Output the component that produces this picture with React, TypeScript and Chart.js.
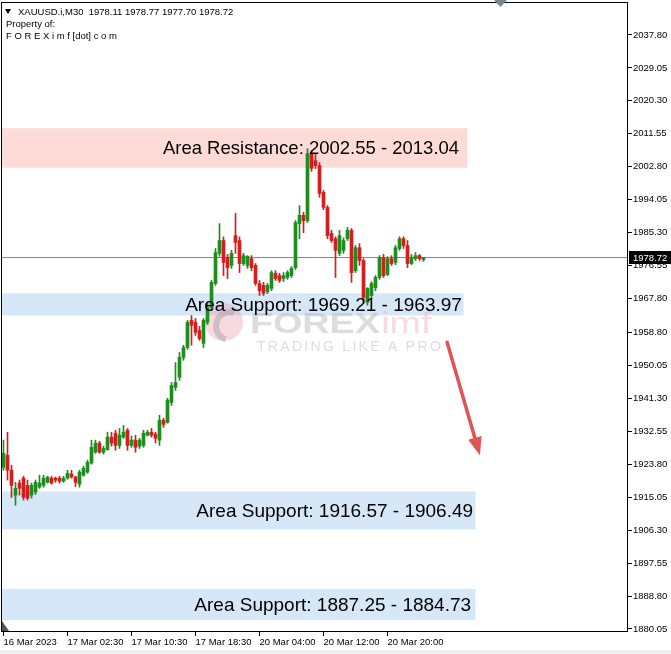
import React, { useEffect, useRef } from "react";
import { Chart, registerables } from "chart.js";

Chart.register(...registerables);

// ---------- header ----------
const headerLine = "XAUUSD.i,M30  1978.11 1978.77 1977.70 1978.72";
const ownerLines = ["Property of:", "F O R E X i m f [dot] c o m"];

// ---------- candles (M30 bars, index 0 = 16 Mar 2023 18:30) ----------
const opens = [
  1923.0, 1926.2, 1922.2, 1915.6, 1918.8, 1920.1, 1918.2, 1915.6, 1916.4, 1917.7,
  1918.2, 1919.0, 1920.1, 1920.1, 1920.1, 1919.3, 1920.1, 1921.2, 1920.4, 1918.5,
  1920.9, 1921.7, 1924.1, 1927.0, 1929.4, 1927.0, 1927.7, 1931.0, 1932.0, 1928.8,
  1931.0, 1932.8, 1928.8, 1930.2, 1928.6, 1928.8, 1931.5, 1932.3, 1931.8, 1930.2,
  1935.5, 1934.9, 1940.2, 1944.2, 1946.9, 1952.2, 1954.8, 1962.0, 1961.5, 1959.3,
  1955.9, 1961.5, 1965.4, 1971.8, 1979.8, 1983.2, 1978.7, 1976.6, 1984.5, 1983.2,
  1977.1, 1976.6, 1978.4, 1976.6, 1971.8, 1971.3, 1969.6, 1970.5, 1974.5, 1973.9,
  1973.1, 1973.4, 1973.9, 1976.0, 1987.7, 1989.9, 1988.5, 2006.3, 2004.4, 2003.1,
  1996.0, 1992.0, 1985.1, 1983.7, 1979.8, 1980.6, 1983.7, 1985.9, 1975.2, 1981.3,
  1977.9, 1966.8, 1968.6, 1970.7, 1973.4, 1978.7, 1974.2, 1978.4, 1977.4, 1981.1,
  1983.7, 1981.9, 1977.1, 1978.4, 1979.2, 1978.11,
];
const highs = [
  1930.2, 1932.3, 1923.5, 1919.0, 1919.6, 1920.6, 1919.6, 1918.8, 1919.6, 1920.9,
  1920.9, 1920.6, 1920.6, 1920.4, 1920.6, 1920.6, 1922.2, 1922.2, 1920.6, 1922.2,
  1923.3, 1924.9, 1930.2, 1930.2, 1929.9, 1928.6, 1932.3, 1932.3, 1932.8, 1933.3,
  1934.1, 1933.3, 1931.3, 1931.5, 1930.7, 1932.8, 1932.8, 1933.3, 1932.3, 1936.8,
  1936.0, 1941.3, 1945.5, 1950.8, 1953.5, 1955.4, 1962.0, 1963.3, 1962.5, 1960.4,
  1962.5, 1966.5, 1972.6, 1981.1, 1987.7, 1984.2, 1979.5, 1980.6, 1990.4, 1984.2,
  1979.8, 1979.2, 1979.2, 1977.1, 1972.6, 1972.1, 1971.8, 1975.2, 1975.2, 1974.5,
  1974.7, 1975.2, 1976.3, 1988.5, 1992.5, 1990.7, 2007.6, 2007.1, 2006.3, 2003.9,
  1996.5, 1992.5, 1985.9, 1984.2, 1985.9, 1983.9, 1986.7, 1986.4, 1981.9, 1982.4,
  1978.4, 1970.7, 1972.3, 1973.9, 1979.2, 1979.5, 1978.9, 1979.2, 1981.9, 1984.2,
  1984.2, 1983.2, 1979.5, 1980.0, 1979.5, 1978.77,
];
const lows = [
  1922.2, 1919.6, 1915.0, 1912.9, 1915.6, 1914.3, 1914.3, 1914.8, 1915.8, 1917.4,
  1917.7, 1918.8, 1918.5, 1919.0, 1918.8, 1919.0, 1919.8, 1920.1, 1917.9, 1917.7,
  1920.6, 1921.4, 1923.8, 1926.7, 1926.7, 1926.5, 1927.5, 1928.6, 1927.5, 1928.0,
  1930.7, 1927.5, 1928.3, 1927.0, 1928.0, 1928.3, 1931.3, 1931.0, 1929.4, 1928.8,
  1933.6, 1934.7, 1939.4, 1943.4, 1946.1, 1951.4, 1954.3, 1955.4, 1958.0, 1956.7,
  1954.8, 1960.9, 1964.6, 1971.3, 1979.0, 1973.9, 1973.1, 1975.8, 1979.8, 1974.7,
  1976.6, 1975.8, 1975.2, 1971.3, 1968.6, 1968.6, 1969.1, 1969.9, 1972.6, 1972.1,
  1972.3, 1972.9, 1973.4, 1975.5, 1983.7, 1985.3, 1988.0, 2001.6, 2002.3, 1994.7,
  1991.4, 1983.7, 1982.7, 1973.4, 1979.2, 1979.8, 1983.2, 1972.1, 1974.7, 1976.6,
  1966.5, 1966.0, 1967.8, 1969.9, 1972.9, 1973.4, 1973.9, 1976.6, 1976.8, 1980.6,
  1981.1, 1976.0, 1976.8, 1977.9, 1977.9, 1977.70,
];
const closes = [
  1926.7, 1922.2, 1918.2, 1917.4, 1917.4, 1915.0, 1914.8, 1918.2, 1919.0, 1918.8,
  1920.1, 1920.4, 1918.8, 1919.6, 1919.3, 1920.1, 1921.4, 1920.4, 1919.0, 1921.7,
  1922.7, 1924.3, 1928.3, 1929.4, 1927.0, 1928.0, 1931.0, 1929.4, 1928.8, 1931.5,
  1932.3, 1928.8, 1930.2, 1928.3, 1930.2, 1932.0, 1932.3, 1931.5, 1930.7, 1935.5,
  1934.4, 1940.8, 1944.7, 1945.5, 1952.2, 1954.8, 1961.5, 1960.7, 1958.8, 1957.2,
  1962.0, 1965.4, 1972.1, 1980.0, 1983.2, 1977.4, 1976.0, 1979.8, 1982.7, 1977.1,
  1979.2, 1979.0, 1976.0, 1971.8, 1969.9, 1969.2, 1971.3, 1974.7, 1973.1, 1972.6,
  1973.9, 1974.7, 1975.8, 1988.0, 1989.9, 1988.5, 2006.3, 2002.4, 2003.1, 1995.7,
  1992.0, 1984.5, 1983.2, 1980.6, 1984.5, 1983.2, 1985.9, 1974.7, 1981.3, 1977.9,
  1968.1, 1970.5, 1971.8, 1973.4, 1978.7, 1973.9, 1978.4, 1977.1, 1981.3, 1983.7,
  1981.9, 1977.1, 1978.7, 1979.2, 1978.4, 1978.72,
];
const lastPrice = 1978.72;

// ---------- axes ----------
const xTickIndex = [0, 16, 32, 48, 64, 80, 96];
const xTickLabels = [
  "16 Mar 2023", "17 Mar 02:30", "17 Mar 10:30", "17 Mar 18:30",
  "20 Mar 04:00", "20 Mar 12:00", "20 Mar 20:00",
];
const yTickValues = [
  2037.8, 2029.05, 2020.3, 2011.55, 2002.8, 1994.05, 1985.3, 1976.55, 1967.8,
  1958.8, 1950.05, 1941.3, 1932.55, 1923.8, 1915.05, 1906.3, 1897.55, 1888.8, 1880.05,
];
const xMin = -0.625;
const xMax = 156.125;
const yMin = 1879.25;
const yMax = 2046.55;

// ---------- zones ----------
const zoneLabels = [
  "Area Resistance: 2002.55 - 2013.04",
  "Area Support: 1969.21 - 1963.97",
  "Area Support: 1916.57 - 1906.49",
  "Area Support: 1887.25 - 1884.73",
];
const zoneHigh = [2013.04, 1969.21, 1916.57, 1890.7];
const zoneLow = [2002.55, 1963.3, 1906.49, 1882.4];
const zoneEndIndex = [116.0, 115.0, 118.0, 118.0];
const zoneLabelEndIndex = [113.9, 114.6, 117.4, 116.9];
const zoneIsResistance = [true, false, false, false];

// ---------- forecast arrow (bar index, price) ----------
const arrowFrom = [110.9, 1956.2];
const arrowTo = [119.1, 1926.2];

const GREEN = "#1f8c1f";
const RED = "#d21e1e";
const FONT = "'Liberation Sans', Arial, sans-serif";

export default function App() {
  const ref = useRef<HTMLCanvasElement>(null);

  useEffect(() => {
    const canvas = ref.current;
    if (!canvas) return;
    const colors = opens.map((o, i) => (closes[i] >= o ? GREEN : RED));
    const bodyData = opens.map((o, i) => ({ x: i, y: [o, closes[i]] }));
    const wickData = opens.map((_, i) => ({ x: i, y: [lows[i], highs[i]] }));

    const overlay = {
      id: "overlay",
      beforeDraw(chart: any) {
        const ctx = chart.ctx;
        ctx.save();
        ctx.fillStyle = "#ffffff";
        ctx.fillRect(0, 0, chart.width, chart.height);
        ctx.fillStyle = "#efefef";
        ctx.fillRect(0, chart.height - 4, chart.width, 4);
        ctx.restore();
      },
      beforeDatasetsDraw(chart: any) {
        const ctx = chart.ctx;
        const xs = chart.scales.x;
        const ys = chart.scales.y;
        const ca = chart.chartArea;
        ctx.save();
        // zones
        for (let i = 0; i < zoneLabels.length; i++) {
          const x1 = xs.getPixelForValue(zoneEndIndex[i]);
          const yt = ys.getPixelForValue(zoneHigh[i]);
          const yb = ys.getPixelForValue(zoneLow[i]);
          ctx.fillStyle = zoneIsResistance[i] ? "#fddcd8" : "#d6e7f8";
          ctx.fillRect(ca.left, yt, x1 - ca.left, yb - yt);
        }
        // watermark
        ctx.fillStyle = "rgba(236,160,178,0.4)";
        ctx.beginPath();
        ctx.arc(224, 322, 19, 0, Math.PI * 2);
        ctx.fill();
        ctx.strokeStyle = "rgba(150,150,150,0.4)";
        ctx.lineWidth = 6;
        ctx.beginPath();
        ctx.arc(230, 326, 14, Math.PI * 0.6, Math.PI * 1.6);
        ctx.stroke();
        ctx.save();
        ctx.translate(250, 333);
        ctx.scale(1.3, 1);
        ctx.font = `bold 29px ${FONT}`;
        ctx.fillStyle = "rgba(170,170,170,0.4)";
        ctx.textBaseline = "alphabetic";
        ctx.fillText("FOREX", 0, 0);
        const w = ctx.measureText("FOREX").width;
        ctx.font = `29px ${FONT}`;
        ctx.fillStyle = "rgba(235,175,195,0.45)";
        ctx.fillText("imf", w + 1, 0);
        ctx.restore();
        ctx.font = `14px ${FONT}`;
        (ctx as any).letterSpacing = "2.3px";
        ctx.fillStyle = "rgba(170,170,170,0.4)";
        ctx.textBaseline = "alphabetic";
        ctx.fillText("TRADING LIKE A PRO", 257, 351);
        (ctx as any).letterSpacing = "0px";
        // last price line
        const yp = Math.round(ys.getPixelForValue(lastPrice)) + 0.5;
        ctx.strokeStyle = "#7d8a96";
        ctx.lineWidth = 1;
        ctx.beginPath();
        ctx.moveTo(ca.left, yp);
        ctx.lineTo(ca.right, yp);
        ctx.stroke();
        ctx.restore();
      },
      afterDatasetsDraw(chart: any) {
        const ctx = chart.ctx;
        const xs = chart.scales.x;
        const ys = chart.scales.y;
        ctx.save();
        // zone labels
        ctx.fillStyle = "#000";
        ctx.textAlign = "right";
        ctx.textBaseline = "middle";
        for (let i = 0; i < zoneLabels.length; i++) {
          ctx.font = `${zoneIsResistance[i] ? 18.5 : 19}px ${FONT}`;
          const xr = xs.getPixelForValue(zoneLabelEndIndex[i]);
          const ym = (ys.getPixelForValue(zoneHigh[i]) + ys.getPixelForValue(zoneLow[i])) / 2 + 1;
          ctx.fillText(zoneLabels[i], xr, ym);
        }
        // arrow
        const ax0 = xs.getPixelForValue(arrowFrom[0]);
        const ay0 = ys.getPixelForValue(arrowFrom[1]);
        const ax1 = xs.getPixelForValue(arrowTo[0]);
        const ay1 = ys.getPixelForValue(arrowTo[1]);
        const ang = Math.atan2(ay1 - ay0, ax1 - ax0);
        const headLen = 18;
        const headHalf = 7;
        const bx = ax1 - headLen * Math.cos(ang);
        const by = ay1 - headLen * Math.sin(ang);
        ctx.strokeStyle = "#e05454";
        ctx.fillStyle = "#e05454";
        ctx.lineWidth = 3.5;
        ctx.lineCap = "round";
        ctx.beginPath();
        ctx.moveTo(ax0, ay0);
        ctx.lineTo(bx, by);
        ctx.stroke();
        ctx.beginPath();
        ctx.moveTo(ax1, ay1);
        ctx.lineTo(bx + headHalf * Math.sin(ang), by - headHalf * Math.cos(ang));
        ctx.lineTo(bx - headHalf * Math.sin(ang), by + headHalf * Math.cos(ang));
        ctx.closePath();
        ctx.fill();
        ctx.restore();
      },
      afterDraw(chart: any) {
        const ctx = chart.ctx;
        const ys = chart.scales.y;
        const ca = chart.chartArea;
        ctx.save();
        // frame
        ctx.strokeStyle = "#000";
        ctx.lineWidth = 1;
        ctx.strokeRect(ca.left + 0.5, ca.top + 0.5, ca.right - ca.left - 1, ca.bottom - ca.top - 1);
        // header
        ctx.fillStyle = "#000";
        ctx.beginPath();
        ctx.moveTo(5, 9);
        ctx.lineTo(11, 9);
        ctx.lineTo(8, 14);
        ctx.closePath();
        ctx.fill();
        ctx.font = `9.5px ${FONT}`;
        ctx.textBaseline = "middle";
        ctx.textAlign = "left";
        ctx.fillText(headerLine, 18, 12);
        ctx.fillText(ownerLines[0], 6, 24);
        ctx.fillText(ownerLines[1], 6, 36);
        // shift marker at top
        ctx.fillStyle = "#7d8792";
        ctx.beginPath();
        ctx.moveTo(494, 0);
        ctx.lineTo(507, 0);
        ctx.lineTo(500.5, 7);
        ctx.closePath();
        ctx.fill();
        // scale-fix marker bottom-left
        ctx.fillStyle = "#555";
        ctx.beginPath();
        ctx.moveTo(ca.left + 1, ca.bottom - 11);
        ctx.lineTo(ca.left + 1, ca.bottom - 1);
        ctx.lineTo(ca.left + 8, ca.bottom - 1);
        ctx.closePath();
        ctx.fill();
        // last price label
        const yp = Math.round(ys.getPixelForValue(lastPrice));
        ctx.fillStyle = "#000";
        ctx.fillRect(ca.right + 1, yp - 6, chart.width - ca.right - 1, 13);
        ctx.fillStyle = "#fff";
        ctx.font = `9.5px ${FONT}`;
        ctx.fillText(lastPrice.toFixed(2), ca.right + 5, yp + 1);
        ctx.restore();
      },
    };

    const chart = new Chart(canvas, {
      type: "bar",
      data: {
        datasets: [
          {
            data: bodyData as any,
            backgroundColor: colors,
            borderWidth: 0,
            barThickness: 3,
            minBarLength: 1,
            grouped: false,
            order: 1,
          } as any,
          {
            data: wickData as any,
            backgroundColor: colors,
            borderWidth: 0,
            barThickness: 1,
            grouped: false,
            order: 2,
          } as any,
        ],
      },
      options: {
        responsive: false,
        animation: false,
        events: [],
        layout: { padding: { left: 1, top: 2, right: 0, bottom: 0 } },
        plugins: { legend: { display: false }, tooltip: { enabled: false } },
        scales: {
          x: {
            type: "linear",
            position: "bottom",
            min: xMin,
            max: xMax,
            offset: false,
            border: { display: false },
            grid: {
              offset: false,
              drawOnChartArea: false,
              drawTicks: true,
              tickLength: 4,
              tickColor: "#000",
              color: "#000",
            },
            ticks: {
              align: "start",
              padding: 1,
              autoSkip: false,
              maxRotation: 0,
              color: "#000",
              font: { family: FONT, size: 9.5 },
              callback: (v: any) => {
                const k = xTickIndex.indexOf(Number(v));
                return k >= 0 ? xTickLabels[k] : "";
              },
            },
            afterBuildTicks: (s: any) => {
              s.ticks = xTickIndex.map((v) => ({ value: v }));
            },
            afterFit: (s: any) => {
              s.height = 22;
              s.paddingLeft = 0;
              s.paddingRight = 0;
            },
          } as any,
          y: {
            type: "linear",
            position: "right",
            min: yMin,
            max: yMax,
            border: { display: false },
            grid: {
              drawOnChartArea: false,
              drawTicks: true,
              tickLength: 4,
              tickColor: "#000",
              color: "#000",
            },
            ticks: {
              padding: 1,
              color: "#000",
              font: { family: FONT, size: 9.5 },
              callback: (v: any) => Number(v).toFixed(2),
            },
            afterBuildTicks: (s: any) => {
              s.ticks = yTickValues.map((v) => ({ value: v }));
            },
            afterFit: (s: any) => {
              s.width = 43;
              s.paddingTop = 0;
              s.paddingBottom = 0;
            },
          } as any,
        },
      },
      plugins: [overlay],
    });
    return () => chart.destroy();
  }, []);

  return (
    <div style={{ position: "fixed", left: 0, top: 0, width: 671, height: 654, background: "#fff" }}>
      <canvas ref={ref} width={671} height={654} style={{ display: "block", width: 671, height: 654 }} />
    </div>
  );
}
